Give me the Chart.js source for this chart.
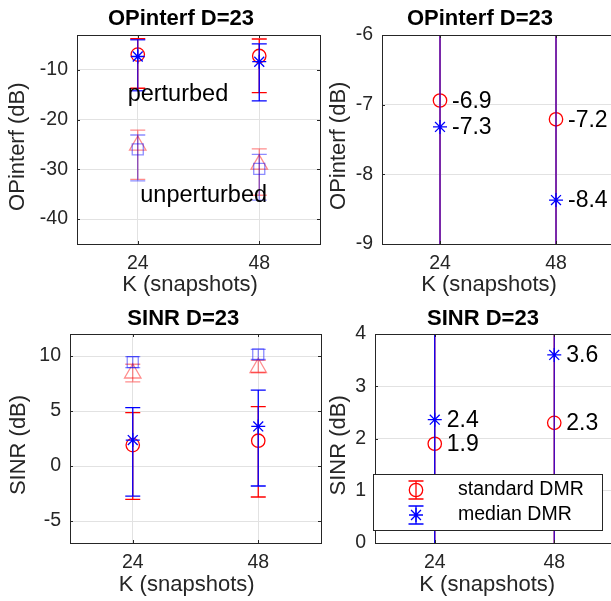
<!DOCTYPE html>
<html><head><meta charset="utf-8">
<script src="https://cdn.jsdelivr.net/npm/chart.js@4.4.0/dist/chart.umd.min.js"></script>
<style>
html,body{margin:0;padding:0;background:#fff;overflow:hidden;width:611px;height:601px;}
canvas{position:absolute;left:0;top:0;}
</style></head><body>
<canvas id="c0" width="640" height="601"></canvas>
<canvas id="c1" width="640" height="601"></canvas>
<canvas id="c2" width="640" height="601"></canvas>
<canvas id="c3" width="640" height="601"></canvas>
<script>
// ---------------- data ----------------
const kValues = [24, 48];
const xTicks = [24, 48];
const seriesLabels = ['standard DMR', 'median DMR'];
const titles = ['OPinterf D=23', 'SINR D=23'];
const yLabels = ['OPinterf (dB)', 'SINR (dB)'];
const xLabel = 'K (snapshots)';
const groupLabels = ['perturbed', 'unperturbed'];

// OPinterf (dB)
const opStdPert = [-6.94, -7.21];
const opStdPertLow = [-13.7, -14.6];
const opStdPertHigh = [-3.75, -3.8];
const opMedPert = [-7.32, -8.37];
const opMedPertLow = [-14.2, -16.25];
const opMedPertHigh = [-3.95, -4.8];
const opStdUnpert = [-25.2, -29.0];
const opStdUnpertLow = [-32.0, -35.2];
const opStdUnpertHigh = [-22.1, -25.9];
const opMedUnpert = [-26.0, -29.9];
const opMedUnpertLow = [-32.3, -36.2];
const opMedUnpertHigh = [-23.1, -27.0];

// SINR (dB)
const sinrStdPert = [1.90, 2.30];
const sinrStdPertLow = [-3.03, -2.82];
const sinrStdPertHigh = [4.85, 5.4];
const sinrMedPert = [2.36, 3.60];
const sinrMedPertLow = [-2.73, -1.82];
const sinrMedPertHigh = [5.3, 6.9];
const sinrStdUnpert = [8.43, 8.93];
const sinrStdUnpertLow = [7.64, 8.5];
const sinrStdUnpertHigh = [9.25, 9.6];
const sinrMedUnpert = [9.45, 10.15];
const sinrMedUnpertLow = [8.95, 9.7];
const sinrMedUnpertHigh = [9.95, 10.6];

const opTicksFull = [-40, -30, -20, -10];
const opTicksZoom = [-9, -8, -7, -6];
const sinrTicksFull = [-5, 0, 5, 10];
const sinrTicksZoom = [0, 1, 2, 3, 4];

// ---------------- styles ----------------
const FONT = '"Liberation Sans", Arial, Helvetica, sans-serif';
const CW = 640, CH = 601, XH = 40, PADL = 8;
const RED = '#ff0000', BLUE = '#0000ff';
const LRED = 'rgba(255,0,0,0.45)', LBLUE = 'rgba(0,0,255,0.45)';
const AXC = '#262626';

const sStdPert = {pointStyle:'circle', pointRadius:6.7, pointBorderColor:RED, pointBackgroundColor:'rgba(0,0,0,0)', pointBorderWidth:1.3, errColor:RED, annotate:true};
const sMedPert = {pointStyle:'star', pointRadius:7, pointBorderColor:BLUE, pointBackgroundColor:BLUE, pointBorderWidth:1.3, errColor:BLUE, blendable:true, annotate:true};
const sStdUnpert = {pointStyle:'triangle', pointRadius:9.5, pointBorderColor:LRED, pointBackgroundColor:'rgba(0,0,0,0)', pointBorderWidth:1.3, errColor:LRED};
const sMedUnpert = {pointStyle:'rect', pointRadius:7.8, pointBorderColor:LBLUE, pointBackgroundColor:'rgba(0,0,0,0)', pointBorderWidth:1.3, errColor:LBLUE};

function ds(label, vals, lo, hi, style) {
  return Object.assign({
    label: label,
    data: kValues.map((k, i) => ({x: k, y: vals[i]})),
    errLow: lo, errHigh: hi, showLine: false, pointHoverRadius: 0
  }, style);
}
// first listed series is painted first (underneath), like MATLAB
function stack(list) {
  return list.map((d, i) => Object.assign(d, {order: list.length - i}));
}

// ---------------- plugins ----------------
const errorBarPlugin = {
  id: 'errbars',
  beforeDatasetDraw(chart, args, opts) {
    const d = chart.data.datasets[args.index];
    if (!d.errLow) return;
    const {ctx, chartArea: a, scales: {x, y}} = chart;
    ctx.save();
    ctx.beginPath();
    ctx.rect(a.left, a.top, a.right - a.left, a.bottom - a.top);
    ctx.clip();
    ctx.strokeStyle = d.errColor;
    ctx.lineWidth = 1.3;
    d.data.forEach((p, i) => {
      const px = x.getPixelForValue(p.x);
      const yl = y.getPixelForValue(d.errLow[i]);
      const yh = y.getPixelForValue(d.errHigh[i]);
      ctx.globalAlpha = (d.blendable && (opts.blend || []).includes(i)) ? 0.78 : 1;
      ctx.beginPath();
      ctx.moveTo(px, yl); ctx.lineTo(px, yh);
      ctx.moveTo(px - 7.5, yl); ctx.lineTo(px + 7.5, yl);
      ctx.moveTo(px - 7.5, yh); ctx.lineTo(px + 7.5, yh);
      ctx.stroke();
    });
    ctx.restore();
  }
};

const decoPlugin = {
  id: 'deco',
  afterDatasetsDraw(chart, args, o) {
    const {ctx, chartArea: a, scales: {x, y}} = chart;
    ctx.save();
    // inner tick marks
    ctx.strokeStyle = AXC; ctx.lineWidth = 1;
    ctx.beginPath();
    y.ticks.forEach(t => {
      const py = Math.round(y.getPixelForValue(t.value)) + 0.5;
      ctx.moveTo(a.left, py); ctx.lineTo(a.left + 3, py);
      ctx.moveTo(a.right, py); ctx.lineTo(a.right - 3, py);
    });
    x.ticks.forEach(t => {
      const px = Math.round(x.getPixelForValue(t.value)) + 0.5;
      ctx.moveTo(px, a.bottom); ctx.lineTo(px, a.bottom - 3);
      ctx.moveTo(px, a.top); ctx.lineTo(px, a.top + 3);
    });
    ctx.stroke();
    // box
    ctx.strokeRect(a.left + 0.5, a.top + 0.5, a.right - a.left, a.bottom - a.top);

    // title & axis labels
    ctx.textBaseline = 'middle';
    ctx.textAlign = 'center';
    ctx.fillStyle = '#000';
    ctx.font = 'bold 22px ' + FONT;
    ctx.fillText(o.title, o.titlePos[0], o.titlePos[1]);
    ctx.fillStyle = AXC;
    ctx.font = '22px ' + FONT;
    ctx.fillText(o.xLabel, o.xLabelPos[0], o.xLabelPos[1]);
    ctx.save();
    ctx.translate(o.yLabelPos[0], o.yLabelPos[1]);
    ctx.rotate(-Math.PI / 2);
    ctx.fillText(o.yLabel, 0, 0);
    ctx.restore();

    // group notes (data coordinates)
    ctx.fillStyle = '#000';
    ctx.textAlign = 'left';
    ctx.font = '23.5px ' + FONT;
    (o.notes || []).forEach(n => {
      ctx.fillText(n.text, x.getPixelForValue(n.x), y.getPixelForValue(n.y));
    });

    // value labels
    if (o.valueLabels) {
      ctx.font = '23px ' + FONT;
      chart.data.datasets.forEach(d => {
        if (!d.annotate) return;
        d.data.forEach(p => {
          ctx.fillText(p.y.toFixed(1), x.getPixelForValue(p.x) + 12, y.getPixelForValue(p.y) + 1);
        });
      });
    }
    ctx.restore();
  },
  afterDraw(chart, args, o) {
    if (!o.legend) return;
    const {ctx} = chart;
    const L = o.legend;
    ctx.save();
    ctx.fillStyle = '#fff';
    ctx.fillRect(L.x0, L.y0, L.x1 - L.x0, L.y1 - L.y0);
    ctx.strokeStyle = AXC; ctx.lineWidth = 1;
    ctx.strokeRect(L.x0 + 0.5, L.y0 + 0.5, L.x1 - L.x0, L.y1 - L.y0);
    L.items.forEach(it => {
      const d = chart.data.datasets[it.index];
      const cx = L.iconX, cy = it.y;
      ctx.strokeStyle = d.errColor; ctx.lineWidth = 1.3;
      ctx.beginPath();
      ctx.moveTo(cx, cy - 9); ctx.lineTo(cx, cy + 9);
      ctx.moveTo(cx - 7.5, cy - 9); ctx.lineTo(cx + 7.5, cy - 9);
      ctx.moveTo(cx - 7.5, cy + 9); ctx.lineTo(cx + 7.5, cy + 9);
      ctx.stroke();
      ctx.strokeStyle = d.pointBorderColor;
      ctx.fillStyle = d.pointBackgroundColor;
      Chart.helpers.drawPoint(ctx, {pointStyle: d.pointStyle, radius: d.pointRadius, borderWidth: d.pointBorderWidth, rotation: 0}, cx, cy);
      ctx.fillStyle = '#000';
      ctx.font = '19.5px ' + FONT;
      ctx.textAlign = 'left'; ctx.textBaseline = 'middle';
      ctx.fillText(d.label, L.textX, cy);
    });
    ctx.restore();
  }
};

function buildChart(id, p) {
  const a = p.area;
  const tickFont = {family: FONT, size: 19.5};
  return new Chart(document.getElementById(id), {
    type: 'scatter',
    data: {datasets: stack(p.datasets)},
    options: {
      responsive: false, animation: false, devicePixelRatio: 1,
      events: [],
      layout: {padding: {left: PADL, top: a.t, right: CW - a.r, bottom: CH - a.b - XH}},
      plugins: {
        legend: {display: false}, tooltip: {enabled: false}, title: {display: false},
        errbars: {blend: p.blend},
        deco: p.deco
      },
      scales: {
        x: {
          type: 'linear', min: 12, max: 60,
          afterBuildTicks: s => { s.ticks = xTicks.map(v => ({value: v})); },
          afterFit: s => { s.height = XH; },
          grid: {color: '#e2e2e2', drawTicks: false, lineWidth: 1},
          border: {display: false},
          ticks: {padding: 7.5, font: tickFont, color: AXC, maxRotation: 0, autoSkip: false}
        },
        y: {
          type: 'linear', min: p.yMin, max: p.yMax,
          afterBuildTicks: s => { s.ticks = p.yTicks.map(v => ({value: v})); },
          afterFit: s => { s.width = a.l - PADL; },
          grid: {color: '#e2e2e2', drawTicks: false, lineWidth: 1},
          border: {display: false},
          ticks: {padding: 9, font: tickFont, color: AXC, autoSkip: false}
        }
      }
    },
    plugins: [errorBarPlugin, decoPlugin]
  });
}

// ---------------- charts ----------------
buildChart('c0', {
  area: {l: 77, t: 35, r: 320, b: 244},
  yMin: -45, yMax: -3, yTicks: opTicksFull, blend: [0],
  datasets: [
    ds(seriesLabels[0], opStdPert, opStdPertLow, opStdPertHigh, sStdPert),
    ds(seriesLabels[1], opMedPert, opMedPertLow, opMedPertHigh, sMedPert),
    ds(seriesLabels[0], opStdUnpert, opStdUnpertLow, opStdUnpertHigh, sStdUnpert),
    ds(seriesLabels[1], opMedUnpert, opMedUnpertLow, opMedUnpertHigh, sMedUnpert)
  ],
  deco: {title: titles[0], titlePos: [181, 18.6], xLabel: xLabel, xLabelPos: [190, 284.8],
         yLabel: yLabels[0], yLabelPos: [18.1, 146.7],
         notes: [{text: groupLabels[0], x: 22, y: -15}, {text: groupLabels[1], x: 24.5, y: -35.2}]}
});

buildChart('c1', {
  area: {l: 382, t: 35, r: 614, b: 244},
  yMin: -9, yMax: -6, yTicks: opTicksZoom, blend: [0, 1],
  datasets: [
    ds(seriesLabels[0], opStdPert, opStdPertLow, opStdPertHigh, sStdPert),
    ds(seriesLabels[1], opMedPert, opMedPertLow, opMedPertHigh, sMedPert)
  ],
  deco: {title: titles[0], titlePos: [480, 18.6], xLabel: xLabel, xLabelPos: [489, 284.5],
         yLabel: yLabels[0], yLabelPos: [339.4, 145.8], valueLabels: true}
});

buildChart('c2', {
  area: {l: 70, t: 334, r: 321, b: 543},
  yMin: -7, yMax: 12, yTicks: sinrTicksFull, blend: [],
  datasets: [
    ds(seriesLabels[0], sinrStdPert, sinrStdPertLow, sinrStdPertHigh, sStdPert),
    ds(seriesLabels[1], sinrMedPert, sinrMedPertLow, sinrMedPertHigh, sMedPert),
    ds(seriesLabels[0], sinrStdUnpert, sinrStdUnpertLow, sinrStdUnpertHigh, sStdUnpert),
    ds(seriesLabels[1], sinrMedUnpert, sinrMedUnpertLow, sinrMedUnpertHigh, sMedUnpert)
  ],
  deco: {title: titles[1], titlePos: [183.3, 319], xLabel: xLabel, xLabelPos: [186.7, 584.8],
         yLabel: yLabels[1], yLabelPos: [18.9, 445]}
});

buildChart('c3', {
  area: {l: 375, t: 334, r: 614, b: 543},
  yMin: 0, yMax: 4, yTicks: sinrTicksZoom, blend: [1],
  datasets: [
    ds(seriesLabels[0], sinrStdPert, sinrStdPertLow, sinrStdPertHigh, sStdPert),
    ds(seriesLabels[1], sinrMedPert, sinrMedPertLow, sinrMedPertHigh, sMedPert)
  ],
  deco: {title: titles[1], titlePos: [483, 319], xLabel: xLabel, xLabelPos: [487.2, 584.8],
         yLabel: yLabels[1], yLabelPos: [339.1, 445.3], valueLabels: true,
         legend: {x0: 373, y0: 474, x1: 602, y1: 530, iconX: 416, textX: 458,
                  items: [{index: 0, y: 490}, {index: 1, y: 515}]}}
});
</script>
</body></html>
